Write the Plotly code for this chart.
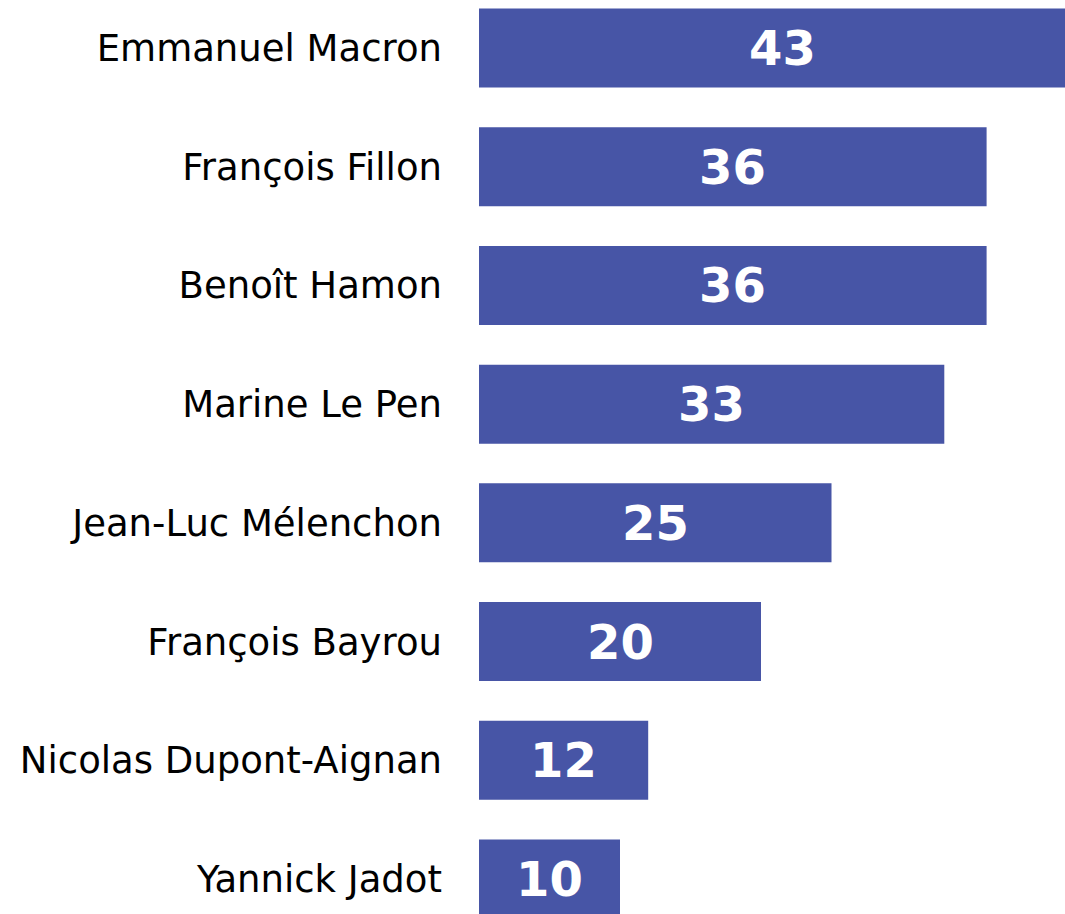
import plotly.graph_objects as go

candidates = ["Emmanuel Macron", "François Fillon", "Benoît Hamon", "Marine Le Pen",
              "Jean-Luc Mélenchon", "François Bayrou", "Nicolas Dupont-Aignan", "Yannick Jadot"]
values = [43, 36, 36, 33, 25, 20, 12, 10]

BAR = "#4755a6"

fig = go.Figure()
fig.add_trace(go.Bar(
    x=values, y=candidates, orientation="h",
    marker=dict(color=BAR, line=dict(width=0)),
    width=0.6655,
    hoverinfo="skip",
))

for c, v in zip(candidates, values):
    fig.add_annotation(x=v / 2, y=c, text=f"<b>{v}</b>", showarrow=False,
                       xref="x", yref="y",
                       font=dict(family="DejaVu Sans", size=48, color="white"))

fig.update_layout(
    width=1065, height=914,
    margin=dict(l=479, r=0, t=0, b=0),
    paper_bgcolor="white", plot_bgcolor="white",
    showlegend=False,
    xaxis=dict(range=[0, 41.56], visible=False, showgrid=False, zeroline=False),
    yaxis=dict(type="category", categoryorder="array", categoryarray=candidates,
               range=[7.2948, -0.4043], showgrid=False, zeroline=False, showline=False,
               ticks="", ticklabelstandoff=36,
               tickfont=dict(family="DejaVu Sans", size=37, color="black")),
)

fig.write_html("out.html", config={"displayModeBar": False},
               post_script="document.body.style.margin='0';document.body.style.overflow='hidden';")
